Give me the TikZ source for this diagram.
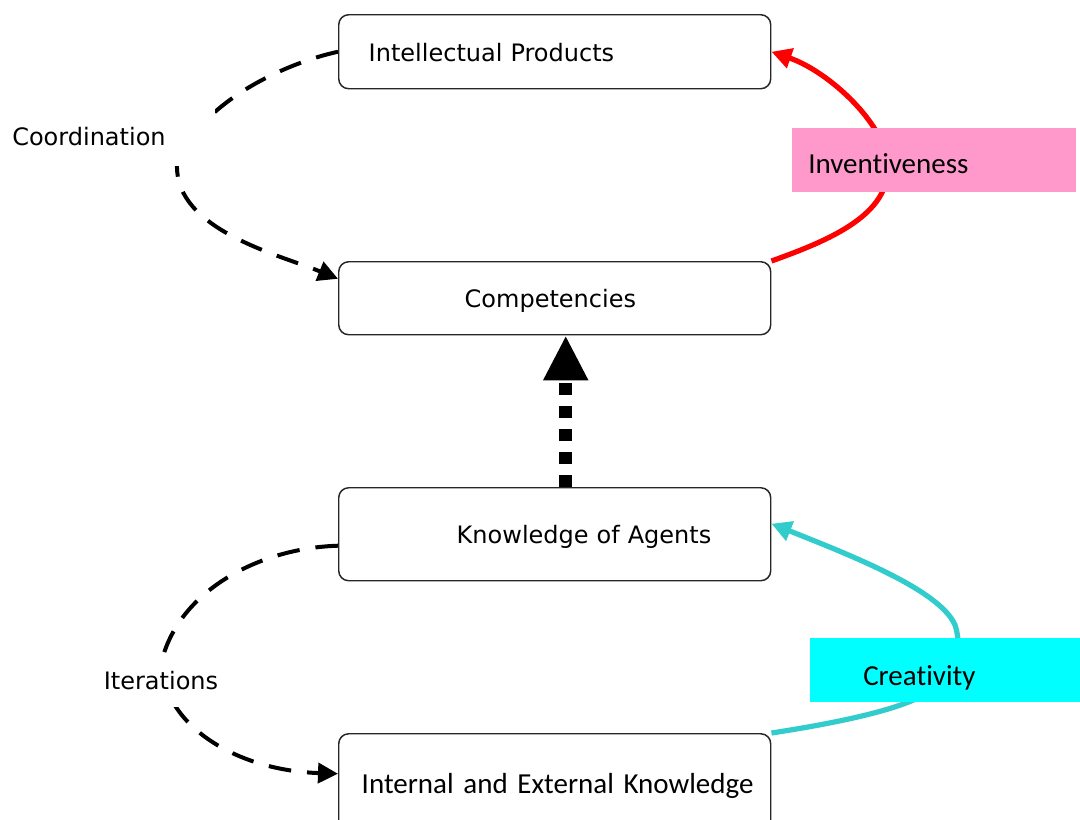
\documentclass[tikz,border=0pt]{standalone}
\usepackage{fontspec}
\setmainfont{DejaVu Sans}
\newfontfamily\calibrifont[Ligatures={NoCommon}]{Carlito}
\usetikzlibrary{arrows.meta,backgrounds}

\begin{document}
\begin{tikzpicture}[x=0.75pt,y=-0.75pt,
  stage/.style={draw=black!85, line width=1.1pt, rounded corners=7.5pt, fill=white,
    text width=324pt, inner xsep=0pt, inner ysep=0pt, align=left, anchor=north west,
    text height=14pt, text depth=0pt, font=\fontsize{18pt}{22pt}\selectfont},
  loopnote/.style={fill=white, inner ysep=0pt, text height=13pt, text depth=0pt,
    font=\fontsize{18pt}{22pt}\selectfont},
  tag/.style={anchor=north west, minimum height=48pt, inner ysep=0pt, align=left,
    text depth=0pt, font=\calibrifont\fontsize{21.75pt}{26pt}\selectfont},
  loopline/.style={line width=3pt, dash pattern=on 17pt off 12pt,
    -{Triangle[length=15pt,width=15pt]}},
  driveline/.style={line width=3.9pt, -{Triangle[length=15pt,width=15pt]}},
  riseline/.style={line width=9.75pt, dash pattern=on 9pt off 8.25pt,
    -{Triangle[length=33.75pt,width=31.5pt]}},
]
\useasboundingbox (0,0) rectangle (1080,819);

% stages
\node[stage, minimum height=55.5pt] (ip) at (338,14) {\hspace*{22.5pt}Intellectual Products};
\node[stage, minimum height=54.75pt] (comp) at (338,261) {\hspace*{94.5pt}Competencies};
\node[stage, minimum height=69.75pt] (ka) at (338,487) {\hspace*{88.5pt}Knowledge of Agents};
\node[stage, minimum height=75pt, font=\calibrifont\fontsize{21.75pt}{26pt}\selectfont]
  (iek) at (338,733) {\hspace*{17.25pt}Internal and External Knowledge};

% loop labels
\node[loopnote, anchor=north west, text width=143.25pt, inner xsep=9pt, align=left,
  minimum height=44.25pt] (coord) at (0,107) {Coordination};
\node[loopnote, minimum width=99pt, minimum height=39pt] (iter) at (161,681) {Iterations};

% driver tags
\node[tag, fill={rgb,255:red,255;green,153;blue,204}, text width=189pt, inner xsep=12pt,
  text height=20pt] (inv) at (792,128) {Inventiveness};
\node[tag, fill={rgb,255:red,0;green,255;blue,255}, text width=123pt, inner xsep=39.75pt,
  text height=23pt] (crea) at (810,638) {Creativity};

\begin{pgfonlayer}{background}
  \fill[white] (0,0) rectangle (1080,819);

  % coordination loop
  \draw[loopline] (ip.west) .. controls (290,62) and (200,100) .. (177,165)
    .. controls (175,230) and (280,255) .. ([yshift=14.6pt]comp.west);

  % iterations loop
  \draw[loopline] ([yshift=-8.6pt]ka.west) .. controls (260,548) and (180,590) .. (162,660)
    .. controls (160,720) and (230,770) .. ([yshift=7.5pt]iek.west);

  % knowledge of agents feeds competencies
  \draw[riseline] ([xshift=8.25pt]ka.north) -- ([xshift=8.25pt]comp.south);

  % inventiveness
  \draw[driveline, red] (comp.north east) .. controls (830,240) and (890,215) .. (888,165)
    .. controls (886,125) and (830,72) .. (ip.east);

  % creativity
  \draw[driveline, color={rgb,255:red,51;green,204;blue,204}] (iek.north east)
    .. controls (830,724) and (890,712) .. (920,697)
    .. controls (950,682) and (965,655) .. (955,625)
    .. controls (940,590) and (850,555) .. ([yshift=7.9pt]ka.east);
\end{pgfonlayer}
\end{tikzpicture}
\end{document}
